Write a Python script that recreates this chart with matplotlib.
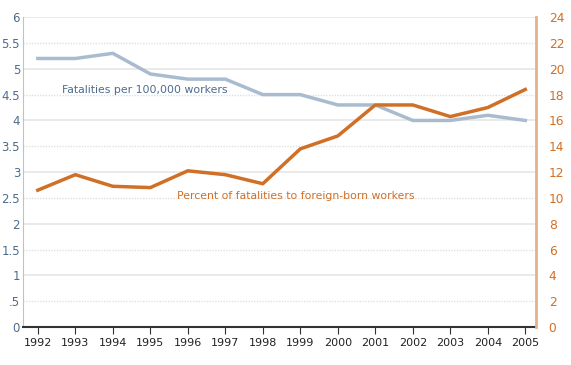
import matplotlib
matplotlib.use("Agg")
import matplotlib.pyplot as plt

years = list(range(1992, 2006))
fatality_rate = [5.2, 5.2, 5.3, 4.9, 4.8, 4.8, 4.5, 4.5, 4.3, 4.3, 4.0, 4.0, 4.1, 4.0]
foreign_pct = [10.6, 11.8, 10.9, 10.8, 12.1, 11.8, 11.1, 13.8, 14.8, 17.2, 17.2, 16.3, 17.0, 18.4]
left_ticks = [0, 0.5, 1, 1.5, 2, 2.5, 3, 3.5, 4, 4.5, 5, 5.5, 6]
left_labels = ["0", ".5", "1", "1.5", "2", "2.5", "3", "3.5", "4", "4.5", "5", "5.5", "6"]
right_ticks = list(range(0, 25, 2))

blue = "#a9bccf"
blue_text = "#4d6b8c"
orange = "#d06f26"
fs = 7.8

fig = plt.figure(figsize=(5.71, 3.65), dpi=100)
ax = fig.add_axes([0.040, 0.104, 0.899, 0.849])
ax2 = ax.twinx()

# gridlines: solid at whole numbers, dotted at halves
for v in left_ticks[1:]:
    if v == int(v):
        ax.axhline(v, color="#e6e6e6", lw=1.2, zorder=0)
    else:
        ax.axhline(v, color="#e0e0e0", lw=1, ls=(0, (1, 1)), zorder=0)

ax.plot(years, fatality_rate, color=blue, lw=2.5, zorder=3)
ax2.plot(years, foreign_pct, color=orange, lw=2.5, zorder=3)

ax.set_xlim(1991.6, 2005.29)
ax.set_ylim(0, 6)
ax2.set_ylim(0, 24)

ax.set_xticks(years)
ax.set_xticklabels([str(y) for y in years], fontsize=fs + 0.2, color="#222222")
ax.set_yticks(left_ticks)
ax.set_yticklabels(left_labels, fontsize=8.5, color=blue_text)
ax.tick_params(axis="y", length=0, pad=2)
ax.tick_params(axis="x", direction="out", length=5, color="#333333", pad=3)
ax2.set_yticks(right_ticks)
ax2.set_yticklabels([str(t) for t in right_ticks], fontsize=8.8, color=orange)
ax2.tick_params(axis="y", length=0, pad=9)

for a in (ax, ax2):
    a.spines["top"].set_visible(False)
ax.spines["right"].set_visible(False)
ax2.spines["left"].set_visible(False)
ax2.spines["bottom"].set_visible(False)
ax.spines["left"].set_color("#b8c4d0")
ax.spines["bottom"].set_color("#333333")
ax.spines["bottom"].set_linewidth(1.5)
ax2.spines["right"].set_color("#e8b088")
ax2.spines["right"].set_linewidth(2)

ax.text(1992.64, 4.58, "Fatalities per 100,000 workers", fontsize=fs,
        color=blue_text, va="center", ha="left", zorder=4)
ax.text(1995.7, 2.53, "Percent of fatalities to foreign-born workers", fontsize=fs,
        color=orange, va="center", ha="left", zorder=4)

fig.savefig("out.png", dpi=100)
